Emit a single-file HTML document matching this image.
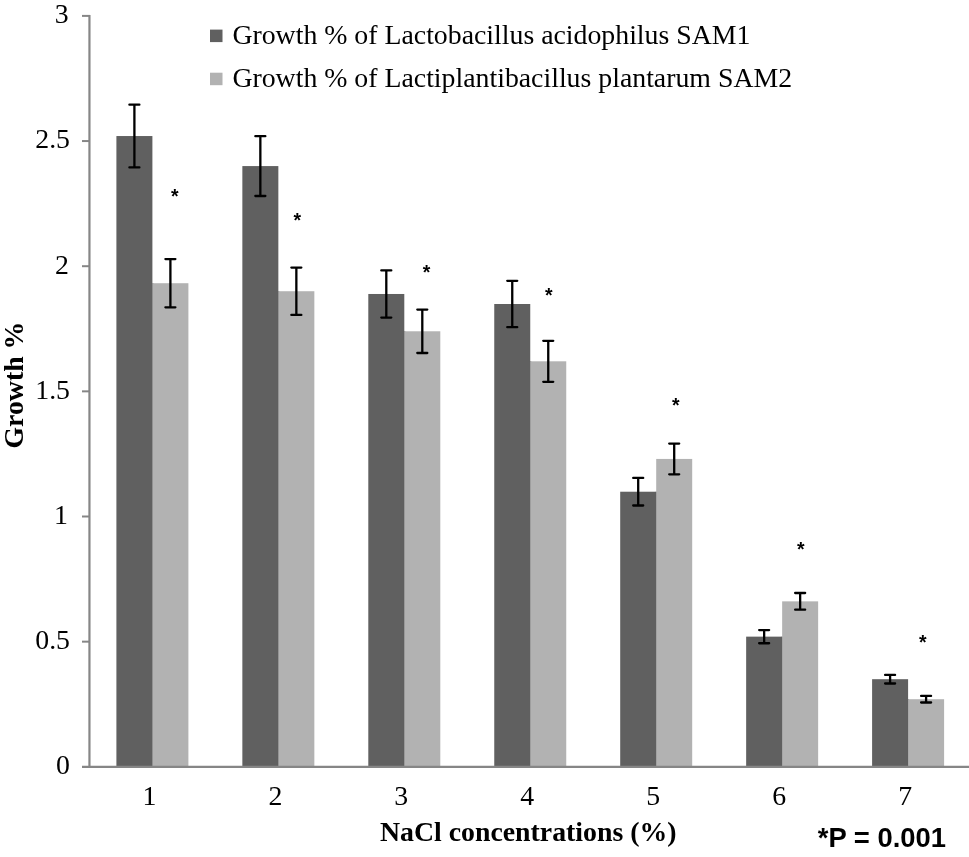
<!DOCTYPE html>
<html><head><meta charset="utf-8"><style>
html,body{margin:0;padding:0;background:#fff;width:969px;height:857px;overflow:hidden}
svg{display:block;filter:grayscale(1)}
.t{font-family:"Liberation Serif",serif;font-size:27.8px;fill:#000}
.b{font-family:"Liberation Serif",serif;font-size:27.8px;font-weight:bold;fill:#000}
.a{font-family:"Liberation Sans",sans-serif;font-size:19.5px;font-weight:bold;fill:#000}
.p{font-family:"Liberation Sans",sans-serif;font-size:27.4px;font-weight:bold;fill:#000}
</style></head><body>
<svg width="969" height="857" viewBox="0 0 969 857">
<rect x="116.40" y="136.04" width="36.0" height="630.76" fill="#606060"/>
<rect x="151.90" y="283.22" width="1.5" height="483.58" fill="#606060"/>
<rect x="152.40" y="283.22" width="36.0" height="483.58" fill="#b2b2b2"/>
<rect x="242.35" y="166.08" width="36.0" height="600.72" fill="#606060"/>
<rect x="277.85" y="291.23" width="1.5" height="475.57" fill="#606060"/>
<rect x="278.35" y="291.23" width="36.0" height="475.57" fill="#b2b2b2"/>
<rect x="368.30" y="293.98" width="36.0" height="472.82" fill="#606060"/>
<rect x="403.80" y="331.28" width="1.5" height="435.52" fill="#606060"/>
<rect x="404.30" y="331.28" width="36.0" height="435.52" fill="#b2b2b2"/>
<rect x="494.25" y="304.00" width="36.0" height="462.80" fill="#606060"/>
<rect x="529.75" y="361.31" width="1.5" height="405.49" fill="#606060"/>
<rect x="530.25" y="361.31" width="36.0" height="405.49" fill="#b2b2b2"/>
<rect x="620.20" y="491.72" width="36.0" height="275.08" fill="#606060"/>
<rect x="655.70" y="491.72" width="1.5" height="275.08" fill="#606060"/>
<rect x="656.20" y="458.93" width="36.0" height="307.87" fill="#b2b2b2"/>
<rect x="746.15" y="636.64" width="36.0" height="130.16" fill="#606060"/>
<rect x="781.65" y="636.64" width="1.5" height="130.16" fill="#606060"/>
<rect x="782.15" y="601.35" width="36.0" height="165.45" fill="#b2b2b2"/>
<rect x="872.10" y="679.19" width="36.0" height="87.61" fill="#606060"/>
<rect x="907.60" y="699.22" width="1.5" height="67.58" fill="#606060"/>
<rect x="908.10" y="699.22" width="36.0" height="67.58" fill="#b2b2b2"/>
<line x1="89.45" y1="15" x2="89.45" y2="767.8" stroke="#868686" stroke-width="2.2"/>
<line x1="82" y1="766.8" x2="975" y2="766.8" stroke="#868686" stroke-width="2.2"/>
<line x1="82" y1="641.65" x2="90" y2="641.65" stroke="#868686" stroke-width="2"/>
<line x1="82" y1="516.50" x2="90" y2="516.50" stroke="#868686" stroke-width="2"/>
<line x1="82" y1="391.35" x2="90" y2="391.35" stroke="#868686" stroke-width="2"/>
<line x1="82" y1="266.20" x2="90" y2="266.20" stroke="#868686" stroke-width="2"/>
<line x1="82" y1="141.05" x2="90" y2="141.05" stroke="#868686" stroke-width="2"/>
<line x1="82" y1="15.90" x2="90" y2="15.90" stroke="#868686" stroke-width="2"/>
<path d="M134.40 104.64V167.44M129.40 104.64H139.40M129.40 167.44H139.40" stroke="#000" stroke-width="2.3" stroke-linecap="round" fill="none"/>
<path d="M170.40 259.12V307.32M165.40 259.12H175.40M165.40 307.32H175.40" stroke="#000" stroke-width="2.3" stroke-linecap="round" fill="none"/>
<path d="M260.35 136.18V195.98M255.35 136.18H265.35M255.35 195.98H265.35" stroke="#000" stroke-width="2.3" stroke-linecap="round" fill="none"/>
<path d="M296.35 267.53V314.93M291.35 267.53H301.35M291.35 314.93H301.35" stroke="#000" stroke-width="2.3" stroke-linecap="round" fill="none"/>
<path d="M386.30 270.38V317.58M381.30 270.38H391.30M381.30 317.58H391.30" stroke="#000" stroke-width="2.3" stroke-linecap="round" fill="none"/>
<path d="M422.30 309.58V352.98M417.30 309.58H427.30M417.30 352.98H427.30" stroke="#000" stroke-width="2.3" stroke-linecap="round" fill="none"/>
<path d="M512.25 280.80V327.20M507.25 280.80H517.25M507.25 327.20H517.25" stroke="#000" stroke-width="2.3" stroke-linecap="round" fill="none"/>
<path d="M548.25 340.81V381.81M543.25 340.81H553.25M543.25 381.81H553.25" stroke="#000" stroke-width="2.3" stroke-linecap="round" fill="none"/>
<path d="M638.20 477.92V505.52M633.20 477.92H643.20M633.20 505.52H643.20" stroke="#000" stroke-width="2.3" stroke-linecap="round" fill="none"/>
<path d="M674.20 443.53V474.33M669.20 443.53H679.20M669.20 474.33H679.20" stroke="#000" stroke-width="2.3" stroke-linecap="round" fill="none"/>
<path d="M764.15 630.04V643.24M759.15 630.04H769.15M759.15 643.24H769.15" stroke="#000" stroke-width="2.3" stroke-linecap="round" fill="none"/>
<path d="M800.15 593.00V609.70M795.15 593.00H805.15M795.15 609.70H805.15" stroke="#000" stroke-width="2.3" stroke-linecap="round" fill="none"/>
<path d="M890.10 674.89V683.49M885.10 674.89H895.10M885.10 683.49H895.10" stroke="#000" stroke-width="2.3" stroke-linecap="round" fill="none"/>
<path d="M926.10 695.92V702.52M921.10 695.92H931.10M921.10 702.52H931.10" stroke="#000" stroke-width="2.3" stroke-linecap="round" fill="none"/>
<text x="70" y="774.10" text-anchor="end" class="t">0</text>
<text x="70" y="648.95" text-anchor="end" class="t">0.5</text>
<text x="68.0" y="523.80" text-anchor="end" class="t">1</text>
<text x="70" y="398.65" text-anchor="end" class="t">1.5</text>
<text x="69.0" y="273.50" text-anchor="end" class="t">2</text>
<text x="70" y="148.35" text-anchor="end" class="t">2.5</text>
<text x="68.6" y="23.20" text-anchor="end" class="t">3</text>
<text x="149.40" y="805" text-anchor="middle" class="t">1</text>
<text x="275.35" y="805" text-anchor="middle" class="t">2</text>
<text x="401.30" y="805" text-anchor="middle" class="t">3</text>
<text x="527.25" y="805" text-anchor="middle" class="t">4</text>
<text x="653.20" y="805" text-anchor="middle" class="t">5</text>
<text x="779.15" y="805" text-anchor="middle" class="t">6</text>
<text x="905.10" y="805" text-anchor="middle" class="t">7</text>
<text x="174.70" y="202.80" text-anchor="middle" class="a">*</text>
<text x="297.40" y="226.90" text-anchor="middle" class="a">*</text>
<text x="426.50" y="279.05" text-anchor="middle" class="a">*</text>
<text x="548.70" y="302.00" text-anchor="middle" class="a">*</text>
<text x="675.75" y="412.00" text-anchor="middle" class="a">*</text>
<text x="800.75" y="556.00" text-anchor="middle" class="a">*</text>
<text x="922.75" y="649.00" text-anchor="middle" class="a">*</text>
<rect x="210" y="29.6" width="12.5" height="12.5" fill="#606060"/>
<rect x="210" y="72.7" width="12.5" height="12.5" fill="#b2b2b2"/>
<text x="232.4" y="44" class="t">Growth % of Lactobacillus acidophilus SAM1</text>
<text x="232.4" y="87" class="t">Growth % of Lactiplantibacillus plantarum SAM2</text>
<text x="380" y="841" class="b">NaCl concentrations (%)</text>
<text transform="translate(23.3,448.5) rotate(-90)" class="b">Growth %</text>
<text x="817.8" y="846.7" class="p">*P = 0.001</text>
</svg>
</body></html>
